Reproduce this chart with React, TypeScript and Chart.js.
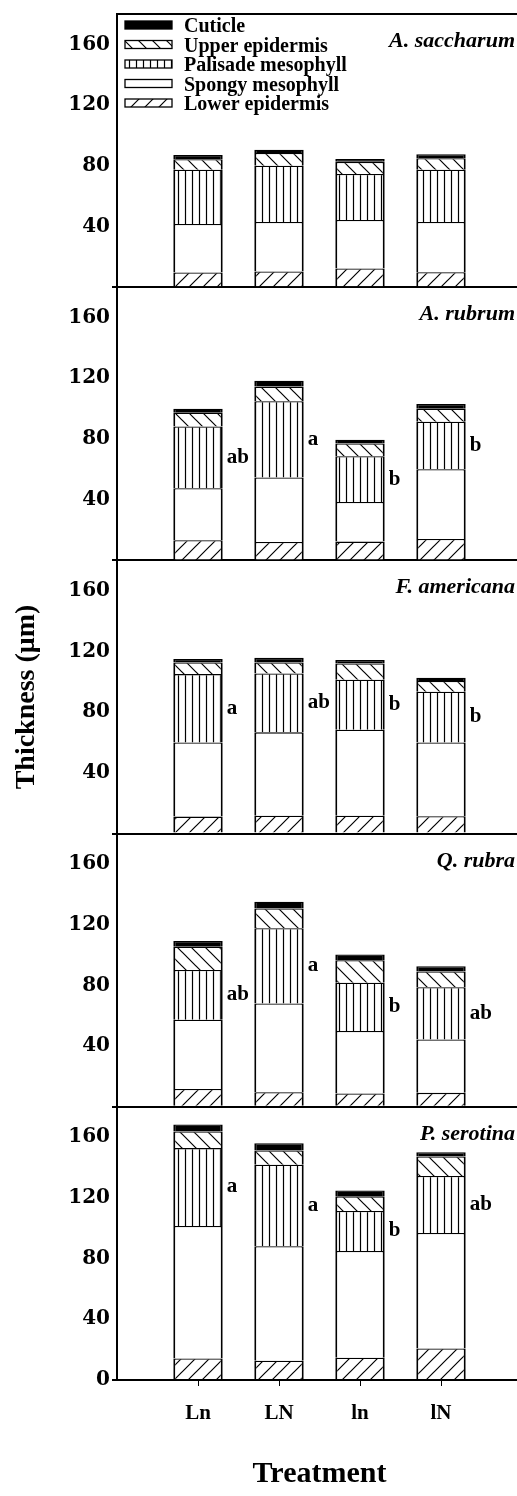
import React, { useEffect, useRef } from 'react';
import { Chart, registerables } from 'chart.js';

Chart.register(...registerables);

// ---------- data ----------
const treatments = ['Ln', 'LN', 'ln', 'lN'];
const species = ['A. saccharum', 'A. rubrum', 'F. americana', 'Q. rubra', 'P. serotina'];
const layerNames = ['Lower epidermis', 'Spongy mesophyll', 'Palisade mesophyll', 'Upper epidermis', 'Cuticle'];

// thickness (µm) of each layer, per species (rows) and treatment (columns)
const lowerEpidermis = [
  [9.7, 10.4, 12.3, 9.9],
  [13.3, 12.2, 12.4, 14.1],
  [11.2, 11.8, 11.8, 11.4],
  [11.8, 9.6, 8.8, 9.2],
  [14.2, 12.7, 14.7, 20.8],
];
const spongyMesophyll = [
  [32.0, 32.6, 32.0, 33.1],
  [34.2, 42.4, 26.1, 46.0],
  [48.9, 54.9, 56.7, 48.7],
  [45.6, 58.5, 41.1, 35.2],
  [87.3, 75.4, 70.3, 76.1],
];
const palisadeMesophyll = [
  [35.7, 37.0, 30.3, 34.4],
  [40.7, 50.3, 30.1, 31.3],
  [45.0, 38.8, 32.9, 33.4],
  [32.8, 49.5, 31.8, 34.4],
  [51.3, 53.7, 26.3, 37.5],
];
const upperEpidermis = [
  [6.9, 8.4, 8.0, 7.6],
  [9.1, 9.6, 8.5, 8.5],
  [7.7, 7.3, 10.7, 7.0],
  [15.3, 13.1, 14.9, 10.3],
  [10.9, 9.4, 9.7, 12.9],
];
const cuticle = [
  [2.8, 2.2, 1.9, 2.6],
  [2.6, 3.9, 2.4, 3.1],
  [2.2, 3.0, 2.2, 2.2],
  [3.8, 4.4, 3.7, 3.5],
  [4.6, 4.8, 3.9, 2.8],
];
// significance letters (palisade mesophyll)
const sigLetters = [
  ['', '', '', ''],
  ['ab', 'a', 'b', 'b'],
  ['a', 'ab', 'b', 'b'],
  ['ab', 'a', 'b', 'ab'],
  ['a', 'a', 'b', 'ab'],
];
const yTickLabels = [0, 40, 80, 120, 160];
const yMax = 180;

const layers = [lowerEpidermis, spongyMesophyll, palisadeMesophyll, upperEpidermis, cuticle];
const layerFills = ['fwd', 'white', 'vertical', 'back', 'black'];

const SERIF = "'Liberation Serif', 'Times New Roman', serif";

function makeFill(ctx: CanvasRenderingContext2D, kind: string): any {
  if (kind === 'white') return '#ffffff';
  if (kind === 'black') return '#000000';
  const c = document.createElement('canvas');
  let w = 14, h = 14;
  if (kind === 'vertical') { w = 7; h = 7; }
  c.width = w; c.height = h;
  const g = c.getContext('2d')!;
  g.fillStyle = '#fff';
  g.fillRect(0, 0, w, h);
  g.strokeStyle = '#000';
  g.lineWidth = 1.2;
  g.beginPath();
  if (kind === 'vertical') {
    g.moveTo(3.5, 0); g.lineTo(3.5, h);
  } else if (kind === 'fwd') {
    g.moveTo(-2, h + 2); g.lineTo(w + 2, -2);
    g.moveTo(-2, 2); g.lineTo(2, -2);
    g.moveTo(w - 2, h + 2); g.lineTo(w + 2, h - 2);
  } else {
    g.moveTo(-2, -2); g.lineTo(w + 2, h + 2);
    g.moveTo(w - 2, -2); g.lineTo(w + 2, 2);
    g.moveTo(-2, h - 2); g.lineTo(2, h + 2);
  }
  g.stroke();
  return ctx.createPattern(c, 'repeat');
}

export default function App() {
  const ref = useRef<HTMLCanvasElement>(null);

  useEffect(() => {
    const canvas = ref.current!;
    const ctx = canvas.getContext('2d')!;
    const fills = layerFills.map((k) => makeFill(ctx, k));

    const datasets: any[] = [];
    species.forEach((sp, i) => {
      layers.forEach((layer, l) => {
        datasets.push({
          label: layerNames[l],
          data: layer[i].map((v, j) => ({ x: j + 1, y: v })),
          yAxisID: 'y' + i,
          stack: 's' + i,
          backgroundColor: fills[l],
          borderColor: '#000',
          borderWidth: { top: 1.3, left: 2, right: 2, bottom: 0 },
          borderSkipped: false,
          grouped: false,
          barPercentage: 0.61,
          categoryPercentage: 1,
        });
      });
    });

    const scales: any = {
      x: {
        type: 'linear',
        min: 0,
        max: 5,
        offset: false,
        position: 'bottom',
        border: { display: true, color: '#000', width: 2 },
        grid: {
          display: true, drawOnChartArea: false, drawTicks: true, offset: false,
          tickLength: 6, color: '#000', tickColor: '#000', tickWidth: 1,
        },
        ticks: {
          stepSize: 1, autoSkip: false, maxRotation: 0, color: '#000', padding: 15,
          font: { family: SERIF, weight: 'bold', size: 21 },
          callback: (v: number) => treatments[v - 1] ?? '',
        },
        afterBuildTicks: (s: any) => {
          s.ticks = s.ticks.filter((t: any) => t.value >= 1 && t.value <= 4);
        },
        title: {
          display: true, text: 'Treatment', color: '#000',
          font: { family: SERIF, weight: 'bold', size: 30 },
          padding: { top: 0, bottom: 4 },
        },
        afterFit: (s: any) => { s.height = 116; },
      },
    };

    species.forEach((sp, i) => {
      scales['y' + i] = {
        type: 'linear',
        position: 'left',
        stack: 'panels',
        stackWeight: 1,
        weight: species.length - i,
        min: 0,
        max: yMax,
        stacked: true,
        border: { display: true, color: '#000', width: 2 },
        grid: {
          drawOnChartArea: true,
          drawTicks: true,
          tickLength: 5,
          lineWidth: 2,
          tickWidth: 2,
          color: (c: any) => (c.tick && (c.tick.value === 0 || c.tick.value === yMax) ? '#000' : 'rgba(0,0,0,0)'),
          tickColor: (c: any) => (c.tick && c.tick.value === 0 ? '#000' : 'rgba(0,0,0,0)'),
        },
        afterBuildTicks: (s: any) => {
          s.ticks = [...yTickLabels, yMax].map((value) => ({ value }));
        },
        ticks: {
          color: '#000',
          padding: 2,
          font: { family: "'DejaVu Serif', serif", weight: 'bold', size: 20 },
          callback: (v: number) =>
            yTickLabels.includes(v) && (v !== 0 || i === species.length - 1) ? String(v) : '',
        },
        title: i === 2
          ? {
              display: true, text: 'Thickness (μm)', color: '#000',
              font: { family: SERIF, weight: 'bold', size: 28 },
              padding: { top: 10, bottom: 0 },
            }
          : { display: false },
        afterFit: (s: any) => { s.width = 117; },
      };
    });

    const annotations = {
      id: 'annotations',
      afterDraw(chart: any) {
        const c = chart.ctx;
        const area = chart.chartArea;
        c.save();
        c.fillStyle = '#000';
        // species labels
        species.forEach((sp, i) => {
          const ys = chart.scales['y' + i];
          c.font = `italic bold 22px ${SERIF}`;
          c.textAlign = 'right';
          c.textBaseline = 'alphabetic';
          c.fillText(sp, area.right - 7, ys.top + 33);
        });
        // significance letters at middle of palisade layer
        species.forEach((sp, i) => {
          const ys = chart.scales['y' + i];
          const meta = chart.getDatasetMeta(i * layers.length + 2);
          c.font = `bold 21px ${SERIF}`;
          c.textAlign = 'left';
          c.textBaseline = 'middle';
          treatments.forEach((t, j) => {
            const txt = sigLetters[i][j];
            if (!txt) return;
            const el = meta.data[j];
            const mid = lowerEpidermis[i][j] + spongyMesophyll[i][j] + palisadeMesophyll[i][j] / 2;
            c.fillText(txt, el.x + el.width / 2 + 4, ys.getPixelForValue(mid));
          });
        });
        // legend (top-left of first panel), cuticle first
        const x0 = area.left + 8;
        const boxW = 47, boxH = 8, pitch = 19.5;
        c.font = `bold 20px ${SERIF}`;
        c.textAlign = 'left';
        c.textBaseline = 'middle';
        for (let r = 0; r < layers.length; r++) {
          const l = layers.length - 1 - r;
          const cy = area.top + 11 + r * pitch;
          c.fillStyle = fills[l];
          c.fillRect(x0, cy - boxH / 2, boxW, boxH);
          c.strokeStyle = '#000';
          c.lineWidth = 1.3;
          c.strokeRect(x0, cy - boxH / 2, boxW, boxH);
          c.fillStyle = '#000';
          c.fillText(layerNames[l], x0 + boxW + 12, cy + 2);
        }
        c.restore();
      },
    };

    const chart = new Chart(canvas, {
      type: 'bar',
      data: { datasets },
      options: {
        animation: false,
        responsive: false,
        devicePixelRatio: 1,
        events: [],
        layout: { padding: { top: 9, left: 0, right: 8, bottom: 0 } },
        plugins: { legend: { display: false }, tooltip: { enabled: false } },
        scales,
      },
      plugins: [annotations],
    } as any);

    return () => chart.destroy();
  }, []);

  return (
    <div style={{ position: 'absolute', left: 0, top: 0, width: 517, height: 1496, overflow: 'hidden', background: '#fff' }}>
      <canvas ref={ref} width={530} height={1496} style={{ width: 530, height: 1496, display: 'block' }} />
    </div>
  );
}
